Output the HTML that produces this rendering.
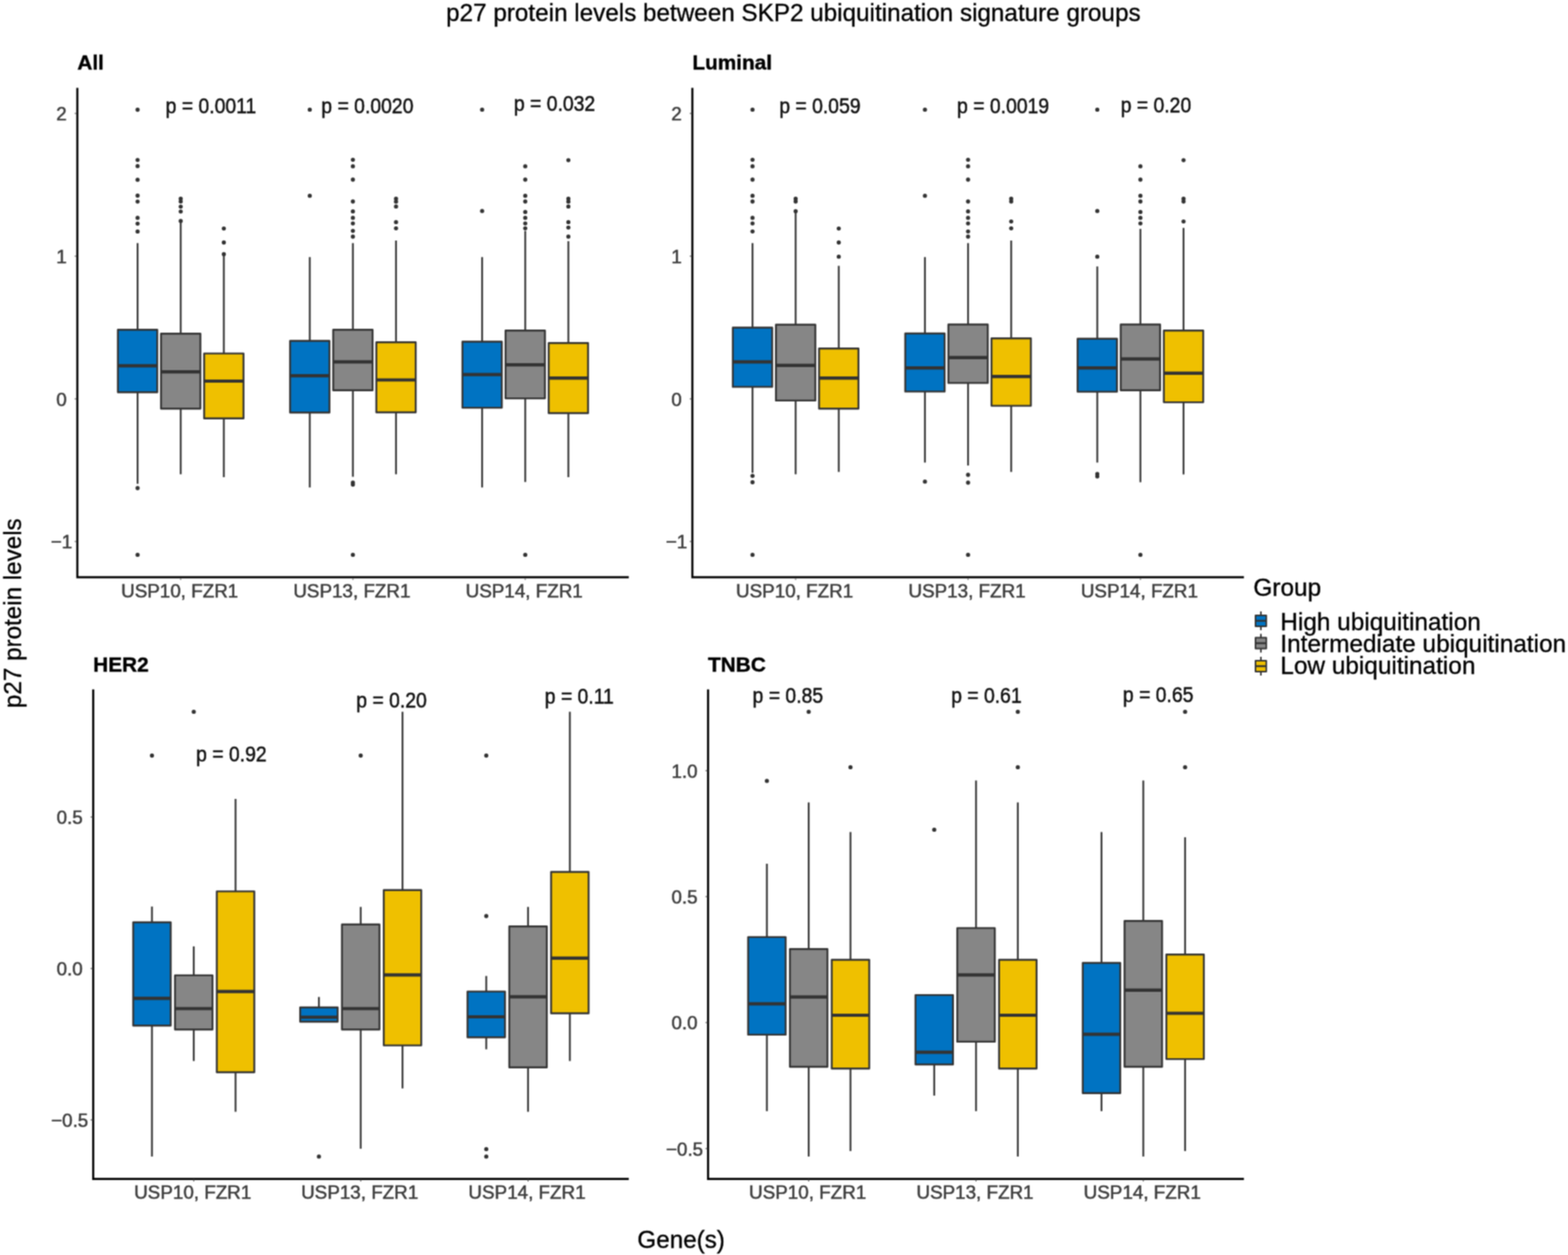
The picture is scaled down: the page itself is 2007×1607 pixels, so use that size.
<!DOCTYPE html>
<html lang="en"><head><meta charset="utf-8"><title>p27 protein levels between SKP2 ubiquitination signature groups</title>
<style>
html,body{margin:0;padding:0;background:#fff;}
body{width:2007px;height:1607px;overflow:hidden;}
svg{display:block;}
text{font-family:"Liberation Sans",Arial,Helvetica,sans-serif;}
.tk{font-size:24.1px;fill:#3d3d3d;stroke:#3d3d3d;stroke-width:0.6;}
.pv{font-size:27.4px;fill:#111;stroke:#111;stroke-width:0.6;}
.pt{font-size:26.6px;font-weight:bold;fill:#000;stroke:#000;stroke-width:0.5;}
.at{font-size:31.0px;fill:#000;stroke:#000;stroke-width:0.4;}
.lg{font-size:31.2px;fill:#000;stroke:#000;stroke-width:0.4;}
.tt{font-size:31.05px;fill:#000;stroke:#000;stroke-width:0.4;}
.ax{stroke:#000;stroke-width:2.7;fill:none;stroke-linecap:butt;}
.tm{stroke:#777;stroke-width:1.6;fill:none;}
.wh{stroke:#333333;stroke-width:2.3;fill:none;}
.bx{stroke:#333333;stroke-width:2.4;stroke-linejoin:round;}
.md{stroke:#333333;stroke-width:4.2;fill:none;}
.ol{fill:#333333;}
</style></head><body>
<svg width="2007" height="1607" viewBox="0 0 2007 1607">
<defs><filter id="soft" x="0" y="0" width="2007" height="1607" filterUnits="userSpaceOnUse" color-interpolation-filters="sRGB"><feConvolveMatrix order="3" kernelMatrix="1 2 1 2 4 2 1 2 1" divisor="16" edgeMode="duplicate" preserveAlpha="false"/></filter></defs>
<g filter="url(#soft)">
<rect x="0" y="0" width="2007" height="1607" fill="#ffffff"/>
<text class="tt" x="1015.5" y="26.9" text-anchor="middle">p27 protein levels between SKP2 ubiquitination signature groups</text>
<text class="at" x="871.8" y="1597.6" text-anchor="middle">Gene(s)</text>
<text class="at" transform="translate(27.2,785.2) rotate(-90)" text-anchor="middle">p27 protein levels</text>
<g>
<text class="pt" x="99" y="89.2">All</text>
<circle class="ol" cx="176.1" cy="140.5" r="2.65"/>
<circle class="ol" cx="176.1" cy="204.8" r="2.65"/>
<circle class="ol" cx="176.1" cy="212.7" r="2.65"/>
<circle class="ol" cx="176.1" cy="230.2" r="2.65"/>
<circle class="ol" cx="176.1" cy="250.5" r="2.65"/>
<circle class="ol" cx="176.1" cy="258.1" r="2.65"/>
<circle class="ol" cx="176.1" cy="278.9" r="2.65"/>
<circle class="ol" cx="176.1" cy="286.3" r="2.65"/>
<circle class="ol" cx="176.1" cy="296.4" r="2.65"/>
<circle class="ol" cx="176.1" cy="625" r="2.65"/>
<circle class="ol" cx="176.1" cy="710.4" r="2.65"/>
<path class="wh" d="M176.1 311.3V422.3"/>
<path class="wh" d="M176.1 502.2V619.5"/>
<rect class="bx" x="150.9" y="422.3" width="50.4" height="79.9" fill="#0073C2"/>
<path class="md" d="M150.9 468.4H201.3"/>
<circle class="ol" cx="231.3" cy="254.5" r="2.65"/>
<circle class="ol" cx="231.3" cy="258.1" r="2.65"/>
<circle class="ol" cx="231.3" cy="264.6" r="2.65"/>
<circle class="ol" cx="231.3" cy="270.8" r="2.65"/>
<circle class="ol" cx="231.3" cy="283" r="2.65"/>
<path class="wh" d="M231.3 283.5V427.2"/>
<path class="wh" d="M231.3 523.3V607.3"/>
<rect class="bx" x="206.1" y="427.2" width="50.4" height="96.1" fill="#868686"/>
<path class="md" d="M206.1 476.2H256.5"/>
<circle class="ol" cx="286.5" cy="292.6" r="2.65"/>
<circle class="ol" cx="286.5" cy="310.5" r="2.65"/>
<circle class="ol" cx="286.5" cy="325.5" r="2.65"/>
<path class="wh" d="M286.5 326.7V452.6"/>
<path class="wh" d="M286.5 535.8V611"/>
<rect class="bx" x="261.3" y="452.6" width="50.4" height="83.2" fill="#EFC000"/>
<path class="md" d="M261.3 488H311.7"/>
<circle class="ol" cx="396.5" cy="140.4" r="2.65"/>
<circle class="ol" cx="396.5" cy="250.7" r="2.65"/>
<path class="wh" d="M396.5 329.2V436.5"/>
<path class="wh" d="M396.5 528.3V624.2"/>
<rect class="bx" x="371.3" y="436.5" width="50.4" height="91.8" fill="#0073C2"/>
<path class="md" d="M371.3 481.2H421.7"/>
<circle class="ol" cx="451.7" cy="204.6" r="2.65"/>
<circle class="ol" cx="451.7" cy="212.9" r="2.65"/>
<circle class="ol" cx="451.7" cy="230" r="2.65"/>
<circle class="ol" cx="451.7" cy="258" r="2.65"/>
<circle class="ol" cx="451.7" cy="270.7" r="2.65"/>
<circle class="ol" cx="451.7" cy="278.9" r="2.65"/>
<circle class="ol" cx="451.7" cy="286.1" r="2.65"/>
<circle class="ol" cx="451.7" cy="295.6" r="2.65"/>
<circle class="ol" cx="451.7" cy="303" r="2.65"/>
<circle class="ol" cx="451.7" cy="618" r="2.65"/>
<circle class="ol" cx="451.7" cy="620.5" r="2.65"/>
<circle class="ol" cx="451.7" cy="710.4" r="2.65"/>
<path class="wh" d="M451.7 311.3V422.2"/>
<path class="wh" d="M451.7 499.7V610.5"/>
<rect class="bx" x="426.5" y="422.2" width="50.4" height="77.5" fill="#868686"/>
<path class="md" d="M426.5 463.3H476.9"/>
<circle class="ol" cx="506.9" cy="254.5" r="2.65"/>
<circle class="ol" cx="506.9" cy="258.2" r="2.65"/>
<circle class="ol" cx="506.9" cy="264.4" r="2.65"/>
<circle class="ol" cx="506.9" cy="284.4" r="2.65"/>
<circle class="ol" cx="506.9" cy="292.3" r="2.65"/>
<path class="wh" d="M506.9 308V438.2"/>
<path class="wh" d="M506.9 528V607.3"/>
<rect class="bx" x="481.7" y="438.2" width="50.4" height="89.8" fill="#EFC000"/>
<path class="md" d="M481.7 486.5H532.1"/>
<circle class="ol" cx="617.1" cy="140.4" r="2.65"/>
<circle class="ol" cx="617.1" cy="270.2" r="2.65"/>
<path class="wh" d="M617.1 329.2V437.5"/>
<path class="wh" d="M617.1 522.1V624.2"/>
<rect class="bx" x="591.9" y="437.5" width="50.4" height="84.6" fill="#0073C2"/>
<path class="md" d="M591.9 479.6H642.3"/>
<circle class="ol" cx="672.3" cy="212.9" r="2.65"/>
<circle class="ol" cx="672.3" cy="230" r="2.65"/>
<circle class="ol" cx="672.3" cy="250.7" r="2.65"/>
<circle class="ol" cx="672.3" cy="258" r="2.65"/>
<circle class="ol" cx="672.3" cy="271.4" r="2.65"/>
<circle class="ol" cx="672.3" cy="278.9" r="2.65"/>
<circle class="ol" cx="672.3" cy="286.1" r="2.65"/>
<circle class="ol" cx="672.3" cy="292.3" r="2.65"/>
<circle class="ol" cx="672.3" cy="710.4" r="2.65"/>
<path class="wh" d="M672.3 295.6V423.2"/>
<path class="wh" d="M672.3 510.1V617.2"/>
<rect class="bx" x="647.1" y="423.2" width="50.4" height="86.9" fill="#868686"/>
<path class="md" d="M647.1 467.2H697.5"/>
<circle class="ol" cx="727.5" cy="205.1" r="2.65"/>
<circle class="ol" cx="727.5" cy="254.5" r="2.65"/>
<circle class="ol" cx="727.5" cy="258.2" r="2.65"/>
<circle class="ol" cx="727.5" cy="264.4" r="2.65"/>
<circle class="ol" cx="727.5" cy="284.4" r="2.65"/>
<circle class="ol" cx="727.5" cy="291.3" r="2.65"/>
<circle class="ol" cx="727.5" cy="303" r="2.65"/>
<path class="wh" d="M727.5 308.8V439.3"/>
<path class="wh" d="M727.5 529V611"/>
<rect class="bx" x="702.3" y="439.3" width="50.4" height="89.7" fill="#EFC000"/>
<path class="md" d="M702.3 484.2H752.7"/>
<path class="ax" d="M99 112.5V739.1H804.8"/>
<path class="tm" d="M95.6 145.3H98"/>
<text class="tk" x="78.7" y="154.3" text-anchor="middle">2</text>
<path class="tm" d="M95.6 328H98"/>
<text class="tk" x="78.7" y="337" text-anchor="middle">1</text>
<path class="tm" d="M95.6 510.7H98"/>
<text class="tk" x="78.7" y="519.7" text-anchor="middle">0</text>
<path class="tm" d="M95.6 693.4H98"/>
<text class="tk" x="78.7" y="702.4" text-anchor="middle">−1</text>
<path class="tm" d="M231.3 740.1V742.5"/>
<text class="tk" x="230" y="764.6" text-anchor="middle">USP10, FZR1</text>
<path class="tm" d="M451.7 740.1V742.5"/>
<text class="tk" x="450.4" y="764.6" text-anchor="middle">USP13, FZR1</text>
<path class="tm" d="M672.3 740.1V742.5"/>
<text class="tk" x="671" y="764.6" text-anchor="middle">USP14, FZR1</text>
<text class="pv" transform="translate(212,145.2) scale(0.905,1)">p = 0.0011</text>
<text class="pv" transform="translate(411.3,145.2) scale(0.905,1)">p = 0.0020</text>
<text class="pv" transform="translate(657.8,142.2) scale(0.905,1)">p = 0.032</text>
</g>
<g>
<text class="pt" x="886.2" y="89.2">Luminal</text>
<circle class="ol" cx="963.2" cy="140.4" r="2.65"/>
<circle class="ol" cx="963.2" cy="204.6" r="2.65"/>
<circle class="ol" cx="963.2" cy="212.9" r="2.65"/>
<circle class="ol" cx="963.2" cy="230" r="2.65"/>
<circle class="ol" cx="963.2" cy="250.7" r="2.65"/>
<circle class="ol" cx="963.2" cy="258" r="2.65"/>
<circle class="ol" cx="963.2" cy="278.9" r="2.65"/>
<circle class="ol" cx="963.2" cy="286.1" r="2.65"/>
<circle class="ol" cx="963.2" cy="296.3" r="2.65"/>
<circle class="ol" cx="963.2" cy="609.3" r="2.65"/>
<circle class="ol" cx="963.2" cy="617.5" r="2.65"/>
<circle class="ol" cx="963.2" cy="710.4" r="2.65"/>
<path class="wh" d="M963.2 311.3V419.5"/>
<path class="wh" d="M963.2 495.4V605.5"/>
<rect class="bx" x="938" y="419.5" width="50.4" height="75.9" fill="#0073C2"/>
<path class="md" d="M938 463.3H988.4"/>
<circle class="ol" cx="1018.4" cy="254.5" r="2.65"/>
<circle class="ol" cx="1018.4" cy="258" r="2.65"/>
<circle class="ol" cx="1018.4" cy="270.4" r="2.65"/>
<path class="wh" d="M1018.4 271.9V415.8"/>
<path class="wh" d="M1018.4 512.9V607.3"/>
<rect class="bx" x="993.2" y="415.8" width="50.4" height="97.1" fill="#868686"/>
<path class="md" d="M993.2 467.9H1043.6"/>
<circle class="ol" cx="1073.6" cy="292.6" r="2.65"/>
<circle class="ol" cx="1073.6" cy="310.5" r="2.65"/>
<circle class="ol" cx="1073.6" cy="328.7" r="2.65"/>
<path class="wh" d="M1073.6 340.4V446.2"/>
<path class="wh" d="M1073.6 523.3V604.3"/>
<rect class="bx" x="1048.4" y="446.2" width="50.4" height="77.1" fill="#EFC000"/>
<path class="md" d="M1048.4 484.2H1098.8"/>
<circle class="ol" cx="1183.9" cy="140.4" r="2.65"/>
<circle class="ol" cx="1183.9" cy="250.7" r="2.65"/>
<circle class="ol" cx="1183.9" cy="616.7" r="2.65"/>
<path class="wh" d="M1183.9 329.2V427"/>
<path class="wh" d="M1183.9 501.4V592.3"/>
<rect class="bx" x="1158.7" y="427" width="50.4" height="74.4" fill="#0073C2"/>
<path class="md" d="M1158.7 471.1H1209.1"/>
<circle class="ol" cx="1239.1" cy="204.6" r="2.65"/>
<circle class="ol" cx="1239.1" cy="212.9" r="2.65"/>
<circle class="ol" cx="1239.1" cy="230" r="2.65"/>
<circle class="ol" cx="1239.1" cy="258" r="2.65"/>
<circle class="ol" cx="1239.1" cy="270.7" r="2.65"/>
<circle class="ol" cx="1239.1" cy="278.9" r="2.65"/>
<circle class="ol" cx="1239.1" cy="286.1" r="2.65"/>
<circle class="ol" cx="1239.1" cy="296.3" r="2.65"/>
<circle class="ol" cx="1239.1" cy="303" r="2.65"/>
<circle class="ol" cx="1239.1" cy="608" r="2.65"/>
<circle class="ol" cx="1239.1" cy="618" r="2.65"/>
<circle class="ol" cx="1239.1" cy="710.4" r="2.65"/>
<path class="wh" d="M1239.1 311.3V415.5"/>
<path class="wh" d="M1239.1 490.4V596.1"/>
<rect class="bx" x="1213.9" y="415.5" width="50.4" height="74.9" fill="#868686"/>
<path class="md" d="M1213.9 457.9H1264.3"/>
<circle class="ol" cx="1294.3" cy="254.5" r="2.65"/>
<circle class="ol" cx="1294.3" cy="258" r="2.65"/>
<circle class="ol" cx="1294.3" cy="283.6" r="2.65"/>
<circle class="ol" cx="1294.3" cy="292.3" r="2.65"/>
<path class="wh" d="M1294.3 308V433.3"/>
<path class="wh" d="M1294.3 519.6V604.3"/>
<rect class="bx" x="1269.1" y="433.3" width="50.4" height="86.3" fill="#EFC000"/>
<path class="md" d="M1269.1 482.2H1319.5"/>
<circle class="ol" cx="1404.5" cy="140.4" r="2.65"/>
<circle class="ol" cx="1404.5" cy="270.2" r="2.65"/>
<circle class="ol" cx="1404.5" cy="328.7" r="2.65"/>
<circle class="ol" cx="1404.5" cy="607" r="2.65"/>
<circle class="ol" cx="1404.5" cy="610" r="2.65"/>
<path class="wh" d="M1404.5 341.2V433.7"/>
<path class="wh" d="M1404.5 501.6V592.3"/>
<rect class="bx" x="1379.3" y="433.7" width="50.4" height="67.9" fill="#0073C2"/>
<path class="md" d="M1379.3 471.1H1429.7"/>
<circle class="ol" cx="1459.7" cy="212.9" r="2.65"/>
<circle class="ol" cx="1459.7" cy="230" r="2.65"/>
<circle class="ol" cx="1459.7" cy="250.7" r="2.65"/>
<circle class="ol" cx="1459.7" cy="258" r="2.65"/>
<circle class="ol" cx="1459.7" cy="271.4" r="2.65"/>
<circle class="ol" cx="1459.7" cy="278.9" r="2.65"/>
<circle class="ol" cx="1459.7" cy="286.1" r="2.65"/>
<circle class="ol" cx="1459.7" cy="710.4" r="2.65"/>
<path class="wh" d="M1459.7 293.1V415.5"/>
<path class="wh" d="M1459.7 499.7V617.5"/>
<rect class="bx" x="1434.5" y="415.5" width="50.4" height="84.2" fill="#868686"/>
<path class="md" d="M1434.5 459.6H1484.9"/>
<circle class="ol" cx="1514.9" cy="205.1" r="2.65"/>
<circle class="ol" cx="1514.9" cy="254.5" r="2.65"/>
<circle class="ol" cx="1514.9" cy="258" r="2.65"/>
<circle class="ol" cx="1514.9" cy="283.6" r="2.65"/>
<path class="wh" d="M1514.9 291.8V423.3"/>
<path class="wh" d="M1514.9 515.1V607.5"/>
<rect class="bx" x="1489.7" y="423.3" width="50.4" height="91.8" fill="#EFC000"/>
<path class="md" d="M1489.7 477.8H1540.1"/>
<path class="ax" d="M886.2 112.5V739.1H1592.2"/>
<path class="tm" d="M882.8 145.3H885.2"/>
<text class="tk" x="865.9" y="154.3" text-anchor="middle">2</text>
<path class="tm" d="M882.8 328H885.2"/>
<text class="tk" x="865.9" y="337" text-anchor="middle">1</text>
<path class="tm" d="M882.8 510.7H885.2"/>
<text class="tk" x="865.9" y="519.7" text-anchor="middle">0</text>
<path class="tm" d="M882.8 693.4H885.2"/>
<text class="tk" x="865.9" y="702.4" text-anchor="middle">−1</text>
<path class="tm" d="M1018.4 740.1V742.5"/>
<text class="tk" x="1017.1" y="764.6" text-anchor="middle">USP10, FZR1</text>
<path class="tm" d="M1239.1 740.1V742.5"/>
<text class="tk" x="1237.8" y="764.6" text-anchor="middle">USP13, FZR1</text>
<path class="tm" d="M1459.7 740.1V742.5"/>
<text class="tk" x="1458.4" y="764.6" text-anchor="middle">USP14, FZR1</text>
<text class="pv" transform="translate(997.4,145.2) scale(0.905,1)">p = 0.059</text>
<text class="pv" transform="translate(1225,145.2) scale(0.905,1)">p = 0.0019</text>
<text class="pv" transform="translate(1434.4,144) scale(0.905,1)">p = 0.20</text>
</g>
<g>
<text class="pt" x="119.3" y="860.3">HER2</text>
<circle class="ol" cx="194.5" cy="967.5" r="2.65"/>
<path class="wh" d="M194.5 1160.8V1181"/>
<path class="wh" d="M194.5 1313.2V1480.9"/>
<rect class="bx" x="170.5" y="1181" width="48" height="132.2" fill="#0073C2"/>
<path class="md" d="M170.5 1278.3H218.5"/>
<circle class="ol" cx="248" cy="911.4" r="2.65"/>
<path class="wh" d="M248 1211.8V1248.9"/>
<path class="wh" d="M248 1318.2V1358.6"/>
<rect class="bx" x="224" y="1248.9" width="48" height="69.3" fill="#868686"/>
<path class="md" d="M224 1291.5H272"/>
<path class="wh" d="M301.5 1023V1141.4"/>
<path class="wh" d="M301.5 1373V1423.6"/>
<rect class="bx" x="277.5" y="1141.4" width="48" height="231.6" fill="#EFC000"/>
<path class="md" d="M277.5 1269.6H325.5"/>
<circle class="ol" cx="408.2" cy="1480.9" r="2.65"/>
<path class="wh" d="M408.2 1276.6V1290"/>
<rect class="bx" x="384.2" y="1290" width="48" height="18.2" fill="#0073C2"/>
<path class="md" d="M384.2 1302.5H432.2"/>
<circle class="ol" cx="461.7" cy="967.5" r="2.65"/>
<path class="wh" d="M461.7 1161.3V1183.7"/>
<path class="wh" d="M461.7 1318.2V1470.9"/>
<rect class="bx" x="437.7" y="1183.7" width="48" height="134.5" fill="#868686"/>
<path class="md" d="M437.7 1291.5H485.7"/>
<path class="wh" d="M515.2 911.4V1139.8"/>
<path class="wh" d="M515.2 1338.6V1393.7"/>
<rect class="bx" x="491.2" y="1139.8" width="48" height="198.8" fill="#EFC000"/>
<path class="md" d="M491.2 1248.4H539.2"/>
<circle class="ol" cx="622.4" cy="967.5" r="2.65"/>
<circle class="ol" cx="622.4" cy="1173" r="2.65"/>
<circle class="ol" cx="622.4" cy="1471.4" r="2.65"/>
<circle class="ol" cx="622.4" cy="1480.9" r="2.65"/>
<path class="wh" d="M622.4 1249.7V1269.6"/>
<path class="wh" d="M622.4 1328.2V1343.6"/>
<rect class="bx" x="598.4" y="1269.6" width="48" height="58.6" fill="#0073C2"/>
<path class="md" d="M598.4 1302H646.4"/>
<path class="wh" d="M675.9 1161.3V1186.2"/>
<path class="wh" d="M675.9 1366.8V1423.6"/>
<rect class="bx" x="651.9" y="1186.2" width="48" height="180.6" fill="#868686"/>
<path class="md" d="M651.9 1276.3H699.9"/>
<path class="wh" d="M729.4 911.4V1116.5"/>
<path class="wh" d="M729.4 1297.5V1358.6"/>
<rect class="bx" x="705.4" y="1116.5" width="48" height="181" fill="#EFC000"/>
<path class="md" d="M705.4 1226.8H753.4"/>
<path class="ax" d="M119.3 882.8V1509.6H804.8"/>
<path class="tm" d="M115.9 1046.2H118.3"/>
<text class="tk" x="89.2" y="1055.2" text-anchor="middle">0.5</text>
<path class="tm" d="M115.9 1240.2H118.3"/>
<text class="tk" x="89.2" y="1249.2" text-anchor="middle">0.0</text>
<path class="tm" d="M115.9 1434H118.3"/>
<text class="tk" x="89.2" y="1443" text-anchor="middle">−0.5</text>
<path class="tm" d="M248 1510.6V1513"/>
<text class="tk" x="246.7" y="1535.3" text-anchor="middle">USP10, FZR1</text>
<path class="tm" d="M461.7 1510.6V1513"/>
<text class="tk" x="460.4" y="1535.3" text-anchor="middle">USP13, FZR1</text>
<path class="tm" d="M675.9 1510.6V1513"/>
<text class="tk" x="674.6" y="1535.3" text-anchor="middle">USP14, FZR1</text>
<text class="pv" transform="translate(251,974.9) scale(0.905,1)">p = 0.92</text>
<text class="pv" transform="translate(456,905.6) scale(0.905,1)">p = 0.20</text>
<text class="pv" transform="translate(697.2,900.7) scale(0.905,1)">p = 0.11</text>
</g>
<g>
<text class="pt" x="906.3" y="860.3">TNBC</text>
<circle class="ol" cx="981.6" cy="999.9" r="2.65"/>
<path class="wh" d="M981.6 1106V1199.9"/>
<path class="wh" d="M981.6 1324.9V1422.8"/>
<rect class="bx" x="957.6" y="1199.9" width="48" height="125" fill="#0073C2"/>
<path class="md" d="M957.6 1285.3H1005.6"/>
<circle class="ol" cx="1035.1" cy="911.4" r="2.65"/>
<path class="wh" d="M1035.1 1027.5V1215.3"/>
<path class="wh" d="M1035.1 1366V1480.9"/>
<rect class="bx" x="1011.1" y="1215.3" width="48" height="150.7" fill="#868686"/>
<path class="md" d="M1011.1 1276.6H1059.1"/>
<circle class="ol" cx="1088.6" cy="982.4" r="2.65"/>
<path class="wh" d="M1088.6 1065.4V1229"/>
<path class="wh" d="M1088.6 1368.3V1473.9"/>
<rect class="bx" x="1064.6" y="1229" width="48" height="139.3" fill="#EFC000"/>
<path class="md" d="M1064.6 1300H1112.6"/>
<circle class="ol" cx="1195.8" cy="1062.4" r="2.65"/>
<path class="wh" d="M1195.8 1363V1402.9"/>
<rect class="bx" x="1171.8" y="1274.1" width="48" height="88.9" fill="#0073C2"/>
<path class="md" d="M1171.8 1347.3H1219.8"/>
<path class="wh" d="M1249.3 999.4V1188.4"/>
<path class="wh" d="M1249.3 1333.9V1422.8"/>
<rect class="bx" x="1225.3" y="1188.4" width="48" height="145.5" fill="#868686"/>
<path class="md" d="M1225.3 1248.4H1273.3"/>
<circle class="ol" cx="1302.8" cy="911.4" r="2.65"/>
<circle class="ol" cx="1302.8" cy="982.4" r="2.65"/>
<path class="wh" d="M1302.8 1027.5V1229"/>
<path class="wh" d="M1302.8 1368.3V1480.9"/>
<rect class="bx" x="1278.8" y="1229" width="48" height="139.3" fill="#EFC000"/>
<path class="md" d="M1278.8 1300H1326.8"/>
<path class="wh" d="M1409.9 1065.4V1233"/>
<path class="wh" d="M1409.9 1399.7V1422.8"/>
<rect class="bx" x="1385.9" y="1233" width="48" height="166.7" fill="#0073C2"/>
<path class="md" d="M1385.9 1324.4H1433.9"/>
<path class="wh" d="M1463.4 999.4V1179.3"/>
<path class="wh" d="M1463.4 1366V1480.9"/>
<rect class="bx" x="1439.4" y="1179.3" width="48" height="186.7" fill="#868686"/>
<path class="md" d="M1439.4 1267.9H1487.4"/>
<circle class="ol" cx="1516.9" cy="911.4" r="2.65"/>
<circle class="ol" cx="1516.9" cy="982.4" r="2.65"/>
<path class="wh" d="M1516.9 1072.1V1222.3"/>
<path class="wh" d="M1516.9 1356.1V1473.9"/>
<rect class="bx" x="1492.9" y="1222.3" width="48" height="133.8" fill="#EFC000"/>
<path class="md" d="M1492.9 1297.5H1540.9"/>
<path class="ax" d="M906.3 882.8V1509.6H1592.2"/>
<path class="tm" d="M902.9 986.8H905.3"/>
<text class="tk" x="876.2" y="995.8" text-anchor="middle">1.0</text>
<path class="tm" d="M902.9 1148.1H905.3"/>
<text class="tk" x="876.2" y="1157.1" text-anchor="middle">0.5</text>
<path class="tm" d="M902.9 1309.4H905.3"/>
<text class="tk" x="876.2" y="1318.4" text-anchor="middle">0.0</text>
<path class="tm" d="M902.9 1470.7H905.3"/>
<text class="tk" x="876.2" y="1479.7" text-anchor="middle">−0.5</text>
<path class="tm" d="M1035.1 1510.6V1513"/>
<text class="tk" x="1033.8" y="1535.3" text-anchor="middle">USP10, FZR1</text>
<path class="tm" d="M1249.3 1510.6V1513"/>
<text class="tk" x="1248" y="1535.3" text-anchor="middle">USP13, FZR1</text>
<path class="tm" d="M1463.4 1510.6V1513"/>
<text class="tk" x="1462.1" y="1535.3" text-anchor="middle">USP14, FZR1</text>
<text class="pv" transform="translate(963.3,900.2) scale(0.905,1)">p = 0.85</text>
<text class="pv" transform="translate(1217.4,900.2) scale(0.905,1)">p = 0.61</text>
<text class="pv" transform="translate(1437.2,899.4) scale(0.905,1)">p = 0.65</text>
</g>
<g>
<text class="lg" x="1604.3" y="762.7">Group</text>
<path class="wh" style="stroke-width:2" d="M1613.9 782.9V806.9"/>
<rect class="bx" style="stroke-width:2" x="1607" y="787.9" width="13.8" height="14" fill="#0073C2"/>
<path class="md" d="M1607 794.9H1620.8" style="stroke-width:2.4"/>
<text class="lg" x="1638.8" y="806.7">High ubiquitination</text>
<path class="wh" style="stroke-width:2" d="M1613.9 811.6V835.6"/>
<rect class="bx" style="stroke-width:2" x="1607" y="816.6" width="13.8" height="14" fill="#868686"/>
<path class="md" d="M1607 823.6H1620.8" style="stroke-width:2.4"/>
<text class="lg" x="1638.8" y="835.1">Intermediate ubiquitination</text>
<path class="wh" style="stroke-width:2" d="M1613.9 841V865"/>
<rect class="bx" style="stroke-width:2" x="1607" y="846" width="13.8" height="14" fill="#EFC000"/>
<path class="md" d="M1607 853H1620.8" style="stroke-width:2.4"/>
<text class="lg" x="1638.8" y="863.2">Low ubiquitination</text>
</g>
</g>
</svg>
</body></html>
